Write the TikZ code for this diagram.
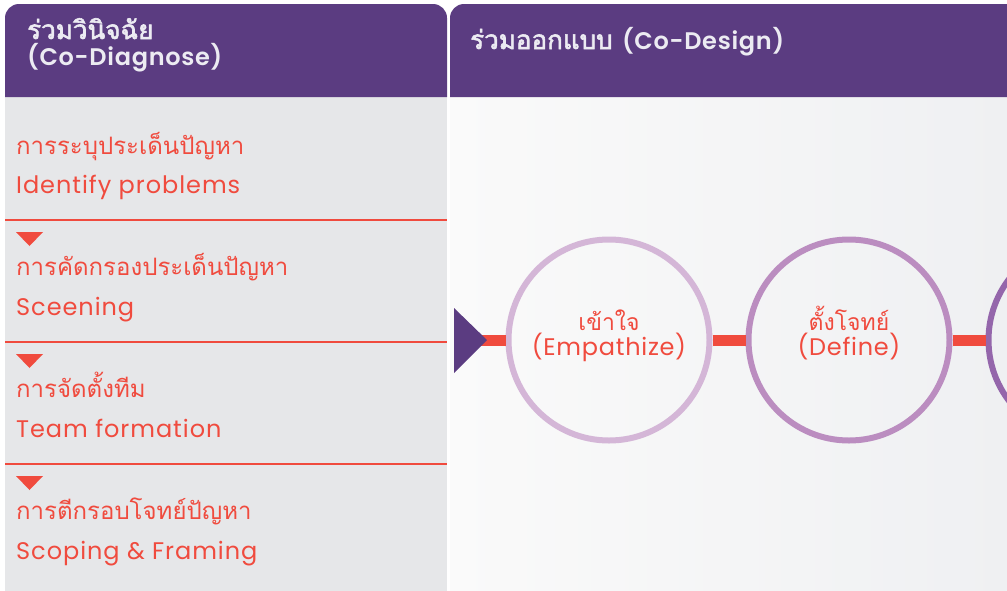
\documentclass[tikz,border=0pt]{standalone}
\usepackage{fontspec}
\setmainfont{Poppins}
\newfontfamily\thai[Script=Thai]{Loma}
\newfontfamily\thaibold[Script=Thai, FakeBold=2.2]{Loma}
\newfontfamily\latspaced[LetterSpace=4]{Poppins}
\newfontfamily\latbold[LetterSpace=3]{Poppins SemiBold}
\newfontfamily\latring[LetterSpace=3]{Poppins}
\definecolor{hdr}{HTML}{5B3C81}
\definecolor{hdrtext}{HTML}{ECEBF2}
\definecolor{leftbg}{HTML}{E6E7E9}
\definecolor{rightbgA}{HTML}{FAFAFA}
\definecolor{rightbgB}{HTML}{EFF0F2}
\definecolor{accent}{HTML}{F04B3E}
\definecolor{ringA}{HTML}{D4B6D7}
\definecolor{ringB}{HTML}{BB8DC0}
\definecolor{ringC}{HTML}{9466AB}
\begin{document}
\begin{tikzpicture}[x=1pt,y=-1pt,
  hdrth/.style={text=hdrtext, font=\thaibold\fontsize{26}{30}\selectfont, anchor=base west, inner sep=0},
  hdren/.style={text=hdrtext, font=\latbold\fontsize{24}{28}\selectfont, anchor=base west, inner sep=0},
  thaistep/.style={text=accent, anchor=base west, inner sep=0, font=\thai\fontsize{24}{28}\selectfont},
  engstep/.style={text=accent, anchor=base west, inner sep=0, font=\latspaced\fontsize{24}{28}\selectfont},
  sepline/.style={draw=accent, line width=2.5pt},
  marker/.style={fill=accent},
  ring/.style={circle, draw, line width=6pt, minimum size=201pt, inner sep=0},
  ringth/.style={text=accent, anchor=base, inner sep=0, font=\thai\fontsize{23}{26}\selectfont},
  ringen/.style={text=accent, anchor=base, inner sep=0, font=\latring\fontsize{24}{26}\selectfont},
  bar/.style={draw=accent, line width=11pt},
]
\useasboundingbox (0,0) rectangle (1007,590);
\clip (0,0) rectangle (1007,590);
\fill[white] (0,0) rectangle (1007,590);

% left column: Co-Diagnose
\fill[leftbg] (5,96) rectangle (447,600);
\fill[hdr] (5,97) [rounded corners=14pt] -- (5,4) -- (447,4) [sharp corners] -- (447,97) -- cycle;
\node[hdrth] (diagTh) at (27,39) {ร่วมวินิจฉัย};
\node[hdren] (diagEn) at (27,65) {(Co-Diagnose)};

% right column: Co-Design
\shade[left color=rightbgA, right color=rightbgB] (450,96) rectangle (1010,600);
\fill[hdr] (450,97) [rounded corners=14pt] -- (450,4) -- (1030,4) [sharp corners] -- (1030,97) -- cycle;
\node[hdrth] (designTh) at (470,49) {ร่วมออกแบบ};
\node[hdren, anchor=base west] (designEn) at ([xshift=9pt]designTh.base east) {(Co-Design)};

% steps of the diagnose column
\foreach \i/\th/\en in {0/การระบุประเด็นปัญหา/Identify problems,
                        1/การคัดกรองประเด็นปัญหา/Sceening,
                        2/การจัดตั้งทีม/Team formation,
                        3/การตีกรอบโจทย์ปัญหา/Scoping \& Framing}{
  \node[thaistep] (stepTh\i) at (16,154+121.7*\i) {\th};
  \node[engstep] (stepEn\i) at (16,193+122*\i) {\en};
}
\foreach \i in {1,2,3}{
  \draw[sepline] (5,98+122*\i) -- (447,98+122*\i);
  \fill[marker] (16,110+122*\i) -- (43,110+122*\i) -- (29.5,124+122*\i) -- cycle;
}

% design stages
\node[ring, draw=ringA] (empathize) at (609,340) {};
\node[ring, draw=ringB] (define) at (849,340) {};
\node[ring, draw=ringC] (ideate) at (1089,340) {};
\node[ringth] (empathizeTh) at ([yshift=10pt]empathize.center) {เข้าใจ};
\node[ringen] (empathizeEn) at ([yshift=-15pt]empathize.center) {(Empathize)};
\node[ringth] (defineTh) at ([yshift=10pt]define.center) {ตั้งโจทย์};
\node[ringen] (defineEn) at ([yshift=-15pt]define.center) {(Define)};

\coordinate (tail) at (454,340);
\coordinate (tip) at (487,340);
\draw[bar] (tail) -- (empathize.west);
\fill[hdr] (454,308) -- (tip) -- (454,373) -- cycle;
\draw[bar] (empathize.east) -- (define.west);
\draw[bar] (define.east) -- (ideate.west);
\end{tikzpicture}
\end{document}
